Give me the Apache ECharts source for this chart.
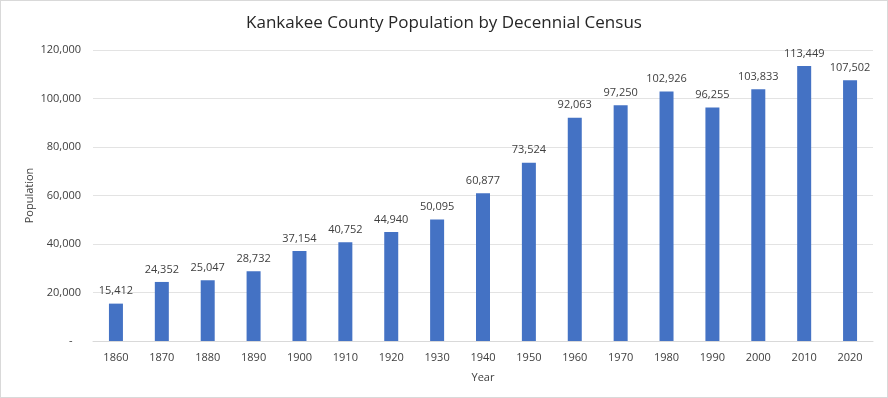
<!DOCTYPE html>
<html>
<head>
<meta charset="utf-8">
<script src="https://cdn.jsdelivr.net/npm/echarts@6/dist/echarts.min.js"></script>
<style>
  html, body { margin: 0; padding: 0; background: #fff; }
  #chart { width: 886px; height: 396px; border: 1px solid #d9d9d9; }
</style>
</head>
<body>
<div id="chart"></div>
<script>
  // census years and population counts
  const years = ['1860', '1870', '1880', '1890', '1900', '1910', '1920', '1930', '1940',
    '1950', '1960', '1970', '1980', '1990', '2000', '2010', '2020']
  const population = [15412, 24352, 25047, 28732, 37154, 40752, 44940, 50095, 60877,
    73524, 92063, 97250, 102926, 96255, 103833, 113449, 107502]

  const font = '"Open Sans", "Noto Sans", sans-serif'
  const fmt = v => v === 0 ? '-   ' : v.toLocaleString('en-US')

  let chart = echarts.init(document.getElementById('chart'))
  chart.setOption({
    animation: false,
    textStyle: { fontFamily: font },
    title: {
      text: 'Kankakee County Population by Decennial Census',
      left: 'center',
      top: 9,
      textStyle: { fontFamily: font, fontSize: 17, fontWeight: 'normal', color: '#262626' }
    },
    grid: { left: 92, right: 14, top: 49, bottom: 56 },
    xAxis: {
      type: 'category',
      data: years,
      name: 'Year',
      nameLocation: 'middle',
      nameGap: 31,
      nameMoveOverlap: false,
      nameTextStyle: { fontSize: 11, color: '#404040' },
      axisLine: { lineStyle: { color: '#d9d9d9' } },
      axisTick: { show: false },
      axisLabel: { fontSize: 11, color: '#404040', margin: 11 }
    },
    yAxis: {
      type: 'value',
      min: 0,
      max: 120000,
      interval: 20000,
      name: 'Population',
      nameLocation: 'middle',
      nameGap: 58,
      nameMoveOverlap: false,
      nameTextStyle: { fontSize: 11, color: '#404040' },
      axisLine: { show: false },
      axisTick: { show: false },
      axisLabel: { fontSize: 11, color: '#404040', margin: 12, formatter: fmt },
      splitLine: { lineStyle: { color: '#e3e3e3' } }
    },
    series: [{
      type: 'bar',
      data: population,
      barWidth: 14,
      itemStyle: { color: '#4472c4' },
      label: {
        show: true,
        position: 'top',
        distance: 7,
        fontSize: 11,
        color: '#404040',
        formatter: p => fmt(p.value)
      }
    }]
  })
</script>
</body>
</html>
